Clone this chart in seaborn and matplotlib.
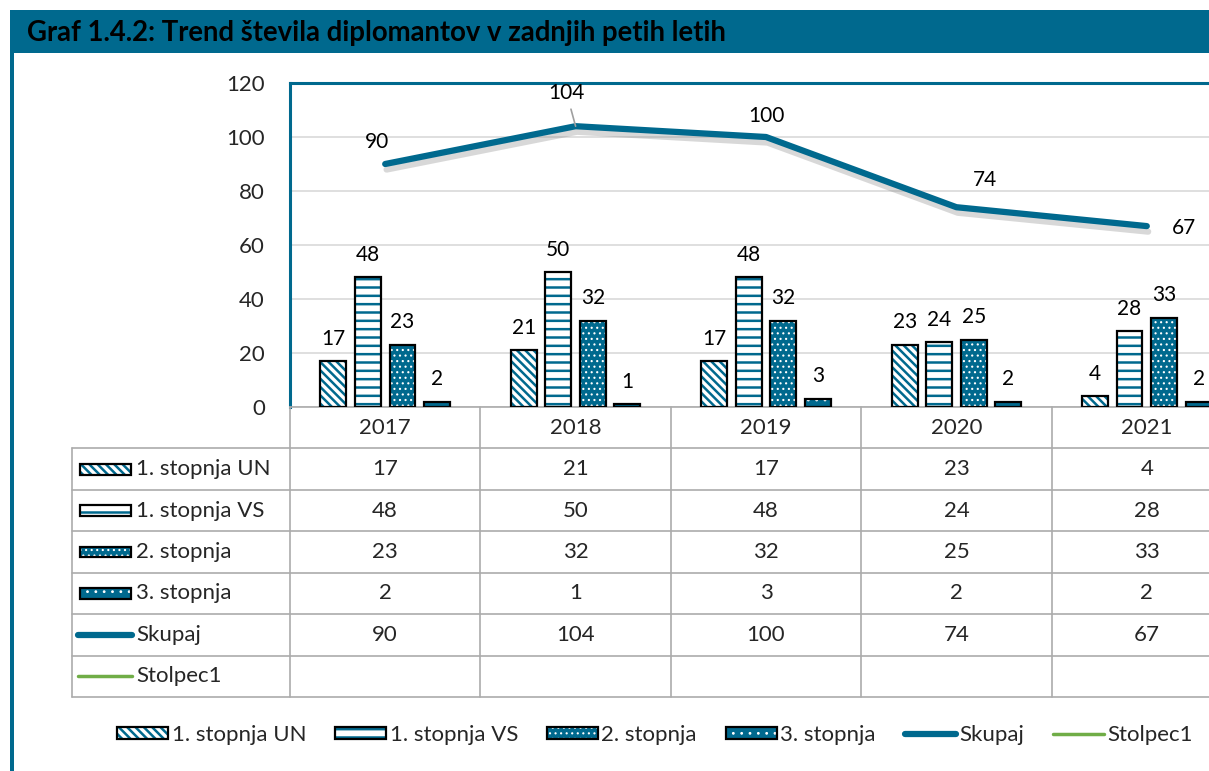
import numpy as np
import pandas as pd
import seaborn as sns
import matplotlib.pyplot as plt
from matplotlib.patches import Rectangle, Patch
from matplotlib.lines import Line2D
from matplotlib.colors import to_rgba
import matplotlib.patheffects as pe

# ---------------- data ----------------
years = ["2017", "2018", "2019", "2020", "2021"]
series = ["1. stopnja UN", "1. stopnja VS", "2. stopnja", "3. stopnja"]
un = [17, 21, 17, 23, 4]
vs = [48, 50, 48, 24, 28]
st2 = [23, 32, 32, 25, 33]
st3 = [2, 1, 3, 2, 2]
skupaj = [90, 104, 100, 74, 67]
line_names = ["Skupaj", "Stolpec1"]
yticks = [0, 20, 40, 60, 80, 100, 120]
title = "Graf 1.4.2: Trend števila diplomantov v zadnjih petih letih"

TEAL = "#00698E"
GREEN = "#70AD47"
GRID = "#D9D9D9"
TABLE_LINE = "#ABABAB"

sns.set_theme(style="white")
plt.rcParams['font.family'] = ['Lato', 'DejaVu Sans']
plt.rcParams['hatch.linewidth'] = 1.8

W, H = 1209, 771
fig = plt.figure(figsize=(W / 100, H / 100), dpi=100)


def fx(px):
    return px / W


def fy(py):
    return 1 - py / H


def set_hc(p, c):
    if hasattr(p, 'set_hatchcolor'):
        p.set_hatchcolor(c)
    else:
        p._hatch_color = to_rgba(c)


# title bar + frame
fig.patches.append(Rectangle((fx(10), fy(53)), 1.0, 43 / H, transform=fig.transFigure,
                             facecolor=TEAL, edgecolor='none', zorder=0))
fig.patches.append(Rectangle((fx(10), 0), 4 / W, fy(53), transform=fig.transFigure,
                             facecolor=TEAL, edgecolor='none', zorder=0))
fig.text(fx(27), fy(33), title, fontsize=19.8, fontweight='bold', va='center', ha='left', color='black')

# ---------------- main chart ----------------
ax = fig.add_axes([fx(290), fy(407), (1242 - 290) / W, (407 - 83) / H])
vals = {series[0]: un, series[1]: vs, series[2]: st2, series[3]: st3}
df = pd.DataFrame([(y, s, vals[s][i]) for s in series for i, y in enumerate(years)],
                  columns=["year", "series", "value"])
sns.barplot(data=df, x="year", y="value", hue="series", order=years, hue_order=series,
            width=0.725, gap=0.25, ax=ax, legend=False, saturation=1, errorbar=None)

styles = [
    dict(fc='white', hatch='\\' * 4, hc=TEAL, hlw=1.8),
    dict(fc='white', hatch='--', hc=TEAL, hlw=1.8),
    dict(fc=TEAL, hatch='...', hc='white', hlw=0.8),
    dict(fc=TEAL, hatch='..', hc='white', hlw=0.8),
]


def style_patch(p, st):
    p.set_facecolor(st['fc'])
    p.set_edgecolor('black')
    p.set_linewidth(1.6)
    p.set_hatch(st['hatch'])
    set_hc(p, st['hc'])
    if hasattr(p, 'set_hatch_linewidth'):
        p.set_hatch_linewidth(st['hlw'])


for cont, st in zip(ax.containers, styles):
    for p in cont:
        style_patch(p, st)
        p.set_zorder(3)
    ax.bar_label(cont, padding=9, fontsize=15, color='black')

line_df = pd.DataFrame({"year": years, "value": skupaj})
sns.lineplot(data=line_df, x="year", y="value", ax=ax, color=TEAL, lw=4.5,
             solid_capstyle='round', zorder=4,
             path_effects=[pe.SimpleLineShadow(offset=(1, -4), shadow_color='gray', alpha=0.3),
                           pe.Normal()])

offs = [(-8, 22), (-9, 33), (0, 21), (29, 27), (37, -2)]
for i, (v, o) in enumerate(zip(skupaj, offs)):
    kw = {}
    if i == 1:
        kw['arrowprops'] = dict(arrowstyle='-', color='#A0A0A0', lw=1.2, shrinkA=2, shrinkB=0)
    ax.annotate(str(v), (i, v), xytext=o, textcoords='offset pixels', ha='center', va='center',
                fontsize=15, color='black', zorder=5, **kw)

ax.set_ylim(0, 120)
ax.set_xlim(-0.5, 4.5)
ax.set_yticks(yticks)
ax.set_yticklabels([str(t) for t in yticks], fontsize=16)
ax.tick_params(axis='y', length=0, pad=18)
ax.set_xticks([])
ax.set_xlabel('')
ax.set_ylabel('')
ax.yaxis.grid(True, color=GRID, lw=1.2, zorder=0)
ax.set_axisbelow(True)
for s in ['top', 'left', 'right']:
    ax.spines[s].set_color(TEAL)
    ax.spines[s].set_linewidth(2.2)
ax.spines['bottom'].set_color(TABLE_LINE)
ax.spines['bottom'].set_linewidth(1.2)

# ---------------- data table ----------------
x_left = (72 - 290) / 190.4 - 0.5
tax = fig.add_axes([fx(72), fy(697), (1242 - 72) / W, (697 - 407) / H])
tax.set_xlim(x_left, 4.5)
tax.set_ylim(7, 0)
tax.axis('off')

row_vals = [un, vs, st2, st3, skupaj, None]
row_names = series + line_names
n_rows = len(row_names)

for r in range(1, n_rows + 2):
    tax.plot([x_left, 4.5], [r, r], color=TABLE_LINE, lw=1.2, clip_on=False)
for c in range(len(years) + 1):
    tax.plot([c - 0.5, c - 0.5], [0, n_rows + 1], color=TABLE_LINE, lw=1.2, clip_on=False)
tax.plot([x_left, x_left], [1, n_rows + 1], color=TABLE_LINE, lw=1.2, clip_on=False)

for i, y in enumerate(years):
    tax.text(i, 0.5, y, ha='center', va='center', fontsize=16)

key_x0 = (80 - 290) / 190.4 - 0.5
key_x1 = (131 - 290) / 190.4 - 0.5
txt_x = (136 - 290) / 190.4 - 0.5
for r, (name, rv) in enumerate(zip(row_names, row_vals)):
    yc = r + 1.5
    if r < 4:
        st = styles[r]
        rect = Rectangle((key_x0, yc - 0.13), key_x1 - key_x0, 0.26)
        style_patch(rect, st)
        tax.add_patch(rect)
    else:
        col = TEAL if r == 4 else GREEN
        lw = 4.5 if r == 4 else 2.5
        tax.plot([key_x0 - 0.01, key_x1 + 0.005], [yc, yc], color=col, lw=lw, solid_capstyle='round')
    tax.text(txt_x, yc, name, ha='left', va='center', fontsize=16)
    if rv is not None:
        for i, v in enumerate(rv):
            tax.text(i, yc, str(v), ha='center', va='center', fontsize=16)

# ---------------- bottom legend ----------------
handles = []
for st, name in zip(styles, series):
    h = Patch(label=name)
    style_patch(h, st)
    handles.append(h)
handles.append(Line2D([], [], color=TEAL, lw=4.5, solid_capstyle='round', label=line_names[0]))
handles.append(Line2D([], [], color=GREEN, lw=2.5, label=line_names[1]))
leg = fig.legend(handles=handles, loc='center', bbox_to_anchor=(fx(655), fy(735)), ncol=6,
                 frameon=False, fontsize=16, handlelength=2.3, handleheight=0.5,
                 handletextpad=0.15, columnspacing=1.3, borderaxespad=0)
for lp, st in zip(leg.get_patches(), styles):
    style_patch(lp, st)

fig.savefig("out.png", dpi=100)
